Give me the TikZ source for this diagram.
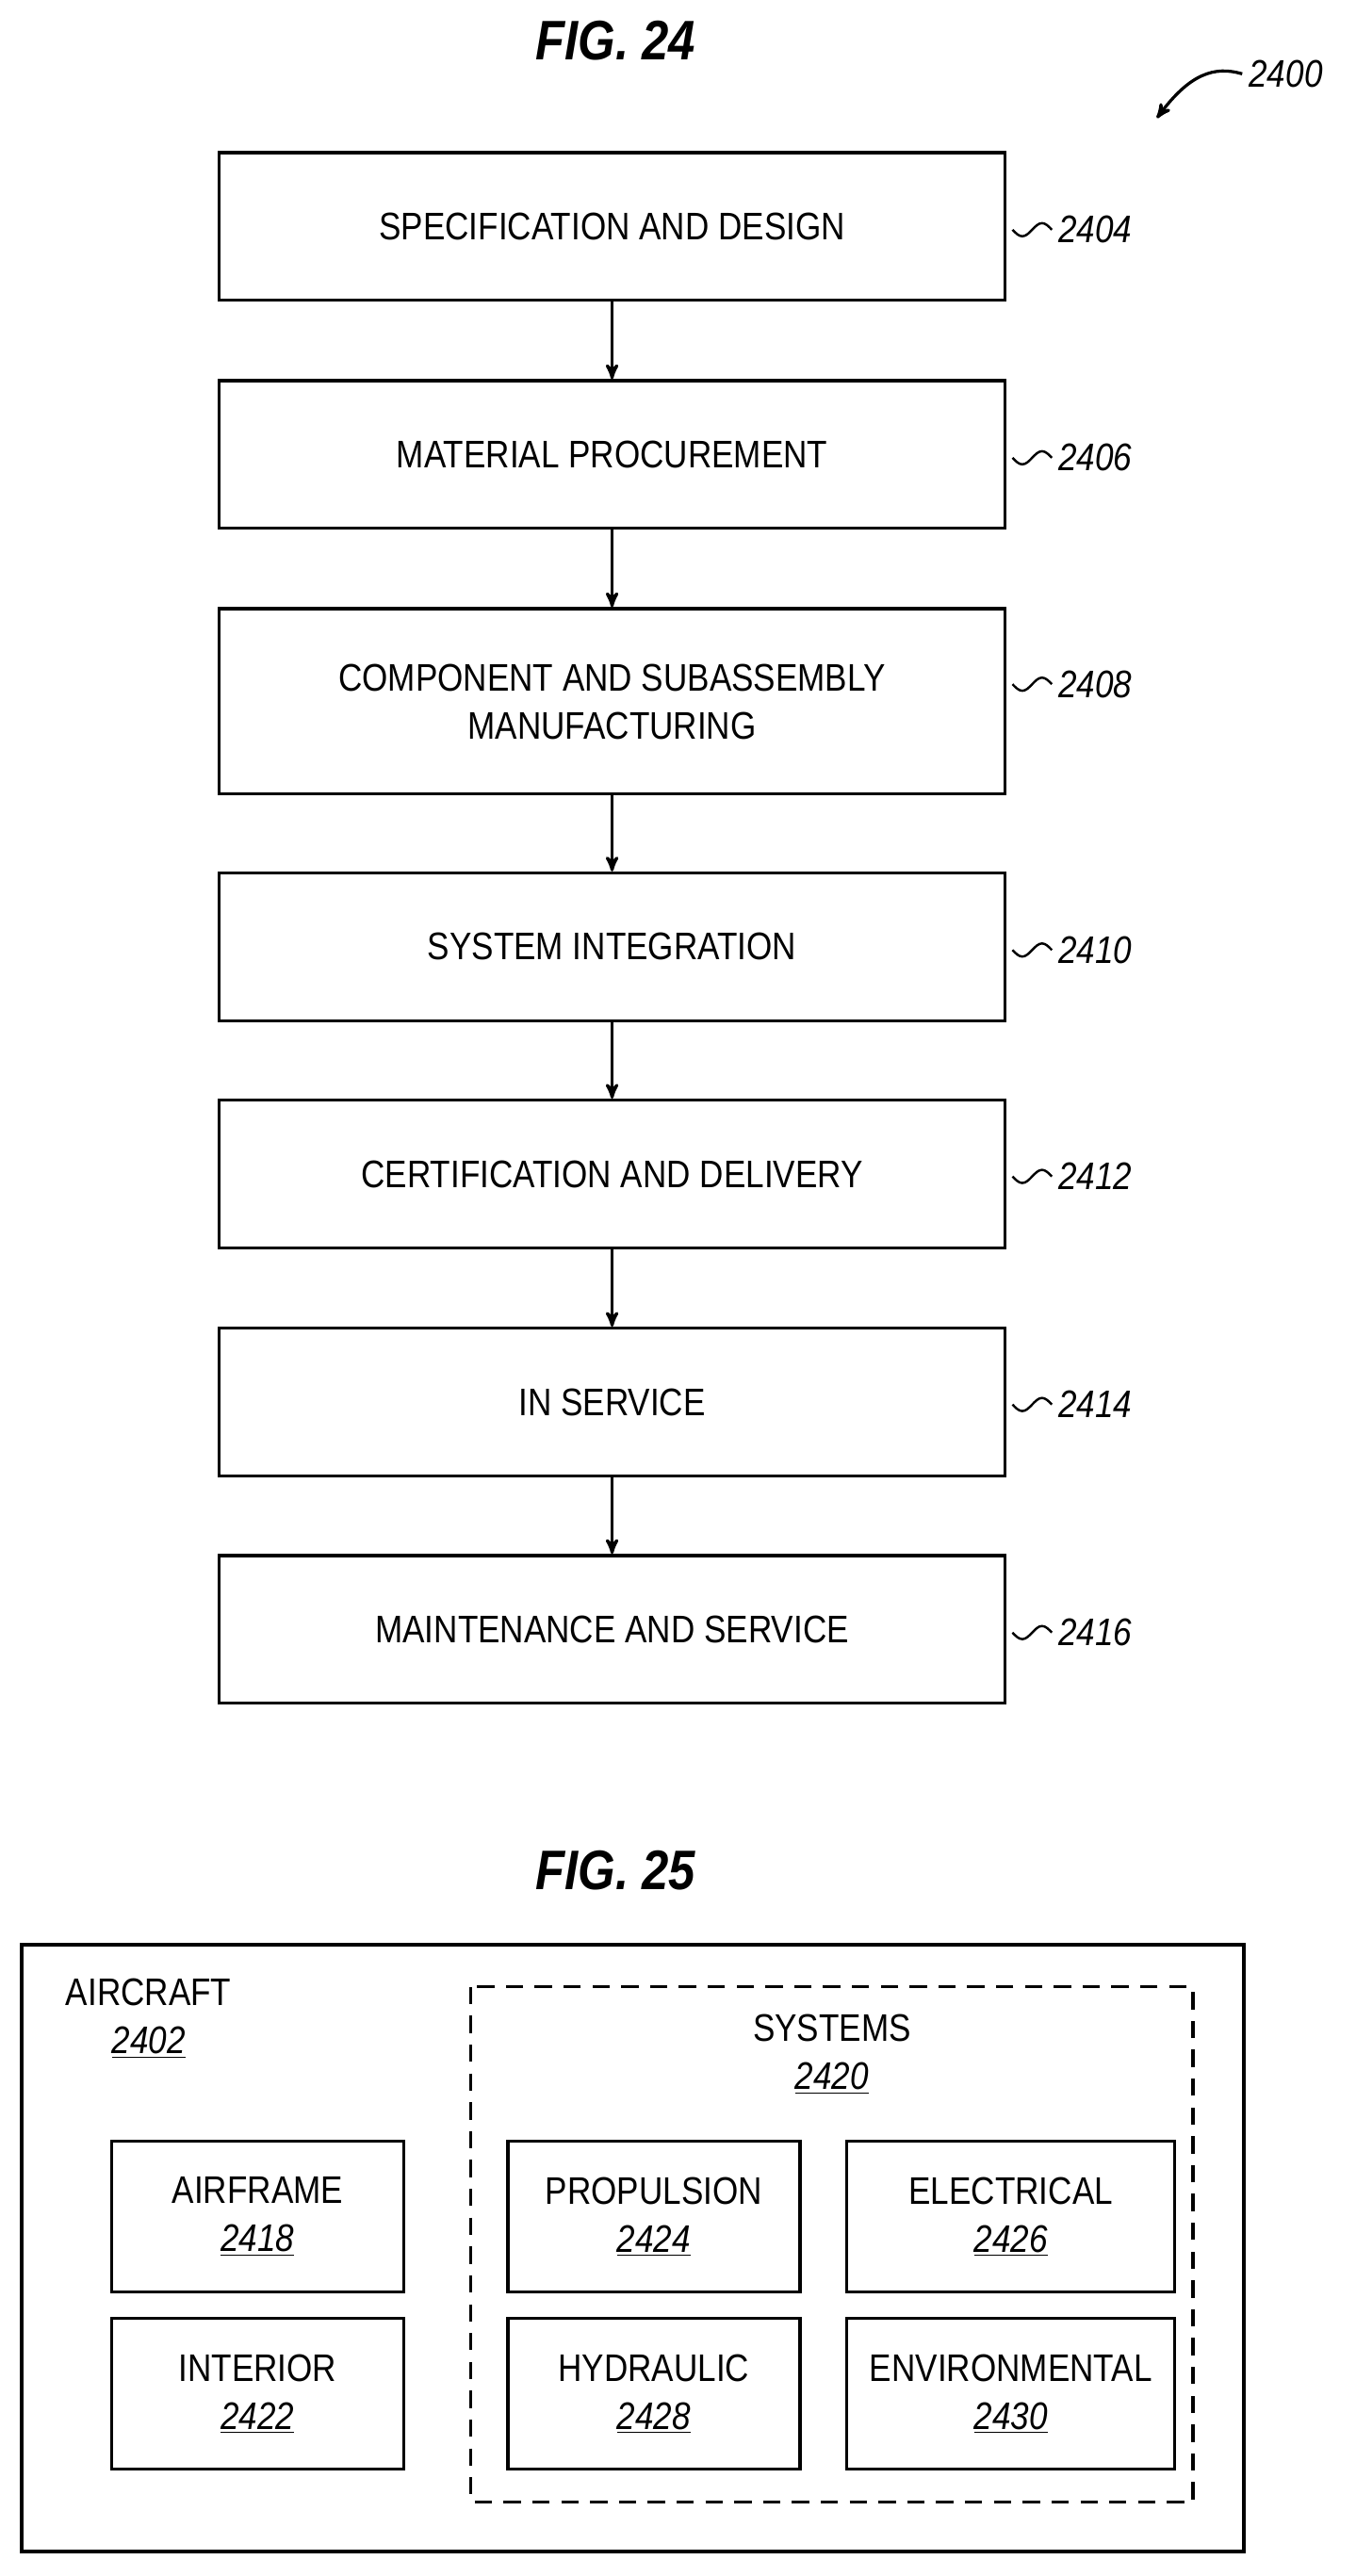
\documentclass[tikz,border=0pt]{standalone}
\usepackage{fontspec}
\setmainfont[FakeStretch=0.86]{Liberation Sans}
\usetikzlibrary{arrows}
\newcommand{\refnum}[1]{\textit{\underline{#1}}}
\begin{document}
\begin{tikzpicture}[x=0.03cm,y=-0.03cm,%
stage/.style={draw,line width=1.6pt,minimum width=479*0.03cm,minimum height=90*0.03cm,font=\fontsize{20}{25}\selectfont,align=center},
part/.style={draw,line width=1.6pt,minimum width=178*0.03cm,minimum height=92*0.03cm,font=\fontsize{20}{25}\selectfont,align=center},
num/.style={font=\fontsize{20}{24}\selectfont\itshape,anchor=west},
title/.style={font=\fontsize{29}{33}\selectfont\bfseries\itshape},
arrow/.style={line width=1.6pt,-stealth'},
wave/.style={line width=1.2pt}
]
\useasboundingbox (0,0) rectangle (826,1570);
% FIG. 24
\node[style=title] (fig a) at (375,25) {FIG. 24};
\node[num] (n2400) at (757,45) {2400};
\draw[arrow] (n2400.west) .. controls (740,40) and (725,45) .. (705,72);
\node[style=stage] (spec) at (373,138) {SPECIFICATION AND DESIGN};
\node[style=stage] (mat) at (373,277) {MATERIAL PROCUREMENT};
\node[style=stage,minimum height=113*0.03cm] (comp) at (373,427.5) {COMPONENT AND SUBASSEMBLY\\MANUFACTURING};
\node[style=stage] (sys) at (373,577) {SYSTEM INTEGRATION};
\node[style=stage] (cert) at (373,715.5) {CERTIFICATION AND DELIVERY};
\node[style=stage] (serv) at (373,854.5) {IN SERVICE};
\node[style=stage] (maint) at (373,993) {MAINTENANCE AND SERVICE};
\node[num] (n2404) at (641,140) {2404};
\node[num] (n2406) at (641,279) {2406};
\node[num] (n2408) at (641,417) {2408};
\node[num] (n2410) at (641,579) {2410};
\node[num] (n2412) at (641,717) {2412};
\node[num] (n2414) at (641,856) {2414};
\node[num] (n2416) at (641,995) {2416};
\foreach \n in {n2404,n2406,n2408,n2410,n2412,n2414,n2416}
  \draw[wave] (\n.west) sin ++(-6,-4) cos ++(-6,4) sin ++(-6,4) cos ++(-6,-4);
\path[style=arrow] (spec) edge (mat) (mat) edge (comp) (comp) edge (sys)
  (sys) edge (cert) (cert) edge (serv) (serv) edge (maint);
% FIG. 25
\node[style=title] (fig b) at (375,1140) {FIG. 25};
\draw[line width=1.9pt] (13,1185) rectangle (758,1555);
\node[font=\fontsize{20}{25}\selectfont,align=left,anchor=north west] (air) at (36,1202) {AIRCRAFT\\\hspace*{24pt}\refnum{2402}};
\draw[line width=1.6pt,dash pattern=on 9pt off 6pt] (287,1211) rectangle (727,1525);
\node[font=\fontsize{20}{25}\selectfont,align=center] (systems) at (507,1252) {SYSTEMS\\\refnum{2420}};
\node[style=part] (frame) at (157,1351) {AIRFRAME\\\refnum{2418}};
\node[style=part] (inter) at (157,1459) {INTERIOR\\\refnum{2422}};
\node[style=part] (prop) at (398.5,1351) {PROPULSION\\\refnum{2424}};
\node[style=part,minimum width=200*0.03cm] (elec) at (616,1351) {ELECTRICAL\\\refnum{2426}};
\node[style=part] (hyd) at (398.5,1459) {HYDRAULIC\\\refnum{2428}};
\node[style=part,minimum width=200*0.03cm] (env) at (616,1459) {ENVIRONMENTAL\\\refnum{2430}};
\end{tikzpicture}
\end{document}
